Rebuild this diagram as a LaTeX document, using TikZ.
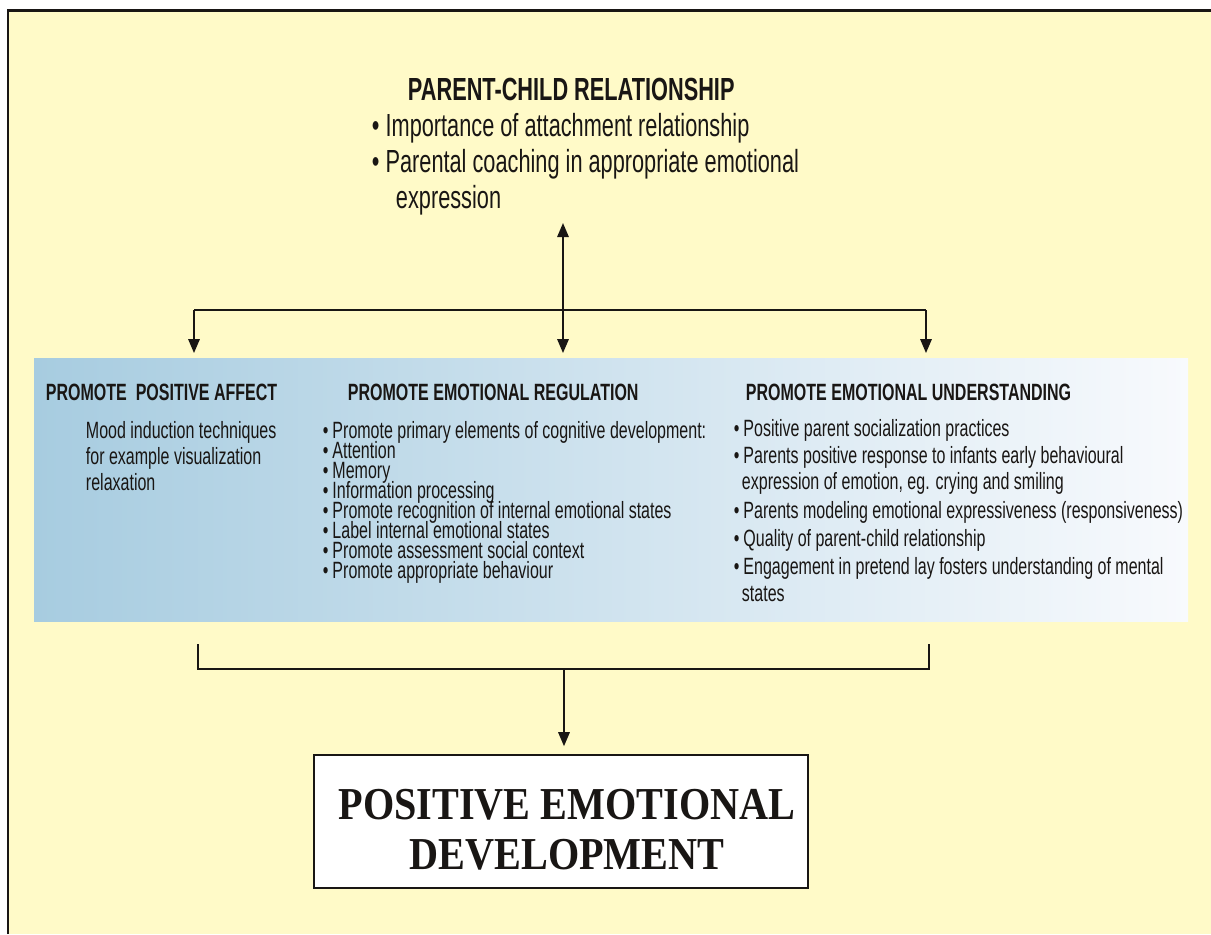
\documentclass[tikz,border=0pt]{standalone}
\usepackage{fontspec}
\setmainfont{Liberation Sans}
\newfontfamily\narrowsf{Liberation Sans}[FakeStretch=0.68]
\newfontfamily\narrowrm{Liberation Serif}[FakeStretch=0.88]
\usetikzlibrary{arrows.meta}
\definecolor{bgyellow}{RGB}{255,250,200}
\definecolor{panelleft}{RGB}{167,204,224}
\definecolor{panelright}{RGB}{248,250,253}
\definecolor{ink}{RGB}{25,22,20}

\begin{document}
\begin{tikzpicture}[x=0.02cm,y=-0.02cm,>={Triangle[length=8pt,width=6.5pt]},
  line width=1.1pt,draw=ink,
  title node/.style={anchor=base west,inner sep=0pt,text=ink,font=\narrowsf\fontsize{18.2}{21}\selectfont\bfseries},
  top item/.style={anchor=base west,inner sep=0pt,text=ink,font=\narrowsf\fontsize{18.2}{21}\selectfont},
  head/.style={anchor=base west,inner sep=0pt,text=ink,font=\narrowsf\fontsize{13.4}{15}\selectfont\bfseries},
  body/.style={anchor=base west,inner sep=0pt,text=ink,font=\narrowsf\fontsize{13.4}{15}\selectfont},
  goal box/.style={draw=ink,fill=white,line width=1pt,minimum width=9.88cm,minimum height=2.66cm,inner sep=0pt},
  goal text/.style={align=center,inner sep=0pt,text=ink,font=\narrowrm\fontsize{26}{28.5}\selectfont\bfseries}]

  \useasboundingbox (0,0) rectangle (1211,934);
  \fill[white] (0,0) rectangle (1211,934);
  \fill[bgyellow] (8,10) rectangle (1211,934);
  \draw[line width=1.2pt] (8,934) -- (8,10.5);
  \draw[line width=1.8pt] (7,10.5) -- (1211,10.5);

  \node[title node] (pcr) at (407,100) {PARENT-CHILD RELATIONSHIP};
  \node[top item] (pcr1) at (371,136) {\textbullet\ Importance of attachment relationship};
  \node[top item] (pcr2) at (371,172) {\textbullet\ Parental coaching in appropriate emotional};
  \node[top item] (pcr3) at (395,208) {expression};

  \shade[left color=panelleft,right color=panelright] (34,358) rectangle (1188,621);
  \coordinate (panel) at (34,358);
  \coordinate (link) at (563,223);
  \coordinate (jl) at (194,310);
  \coordinate (jr) at (926,310);

  \draw[<->,shorten >=2.8pt] (link) -- (link |- panel);
  \draw (jl) -- (jr);
  \draw[->,shorten >=2.8pt] (jl) -- (jl |- panel);
  \draw[->,shorten >=2.8pt] (jr) -- (jr |- panel);

  \node[head] (affect) at (45,400) {PROMOTE\ \ POSITIVE AFFECT};
  \node[head] (regul) at (347,400) {PROMOTE EMOTIONAL REGULATION};
  \node[head] (under) at (745,400) {PROMOTE EMOTIONAL UNDERSTANDING};

  \foreach \y/\t [count=\i] in {438/Mood induction techniques,464/for example visualization,490/relaxation}
    \node[body] (mood\i) at (85,\y) {\t};

  \foreach \t [count=\i] in {Promote primary elements of cognitive development:,Attention,Memory,
      Information processing,Promote recognition of internal emotional states,
      Label internal emotional states,Promote assessment social context,Promote appropriate behaviour}
    \node[body] (reg\i) at (322,{418+20*\i}) {\textbullet\,\t};

  \foreach \x/\y/\t [count=\i] in {733/436/{\textbullet\,Positive parent socialization practices},
      733/463/{\textbullet\,Parents positive response to infants early behavioural},
      741/489/{expression of emotion, eg. crying and smiling},
      733/518/{\textbullet\,Parents modeling emotional expressiveness (responsiveness)},
      733/546/{\textbullet\,Quality of parent-child relationship},
      733/574/{\textbullet\,Engagement in pretend lay fosters understanding of mental},
      741/601/states}
    \node[body] (und\i) at (\x,\y) {\t};

  \coordinate (bl) at (198,644);
  \coordinate (br) at (929,644);
  \coordinate (bm) at (564,669);
  \draw (bl) -- (bl |- bm) -- (br |- bm) -- (br);

  \node[goal box] (goal) at (561,821.5) {};
  \node[goal text] (goaltext) at (567,829.5) {POSITIVE EMOTIONAL\\DEVELOPMENT};
  \draw[->,shorten >=4.5pt] (bm) -- (bm |- goal.north);
\end{tikzpicture}
\end{document}
